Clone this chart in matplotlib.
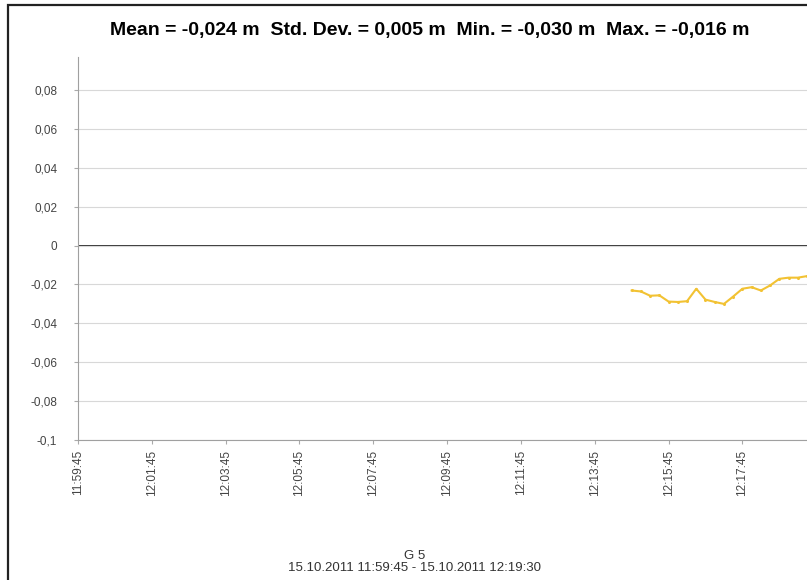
import datetime as dt

import matplotlib
matplotlib.use("Agg")
import matplotlib.dates as mdates
import matplotlib.pyplot as plt
from matplotlib.patches import Rectangle

# ---------------------------------------------------------------------------
# Data (one sample every 15 s)
# ---------------------------------------------------------------------------
START = dt.datetime(2011, 10, 15, 11, 59, 45)
END = dt.datetime(2011, 10, 15, 12, 19, 30)
SERIES_START = dt.datetime(2011, 10, 15, 12, 14, 45)

values = [-0.0231, -0.0236, -0.0258, -0.0256, -0.0288, -0.0290, -0.0286,
          -0.0222, -0.0278, -0.0290, -0.0300, -0.0262, -0.0222, -0.0214,
          -0.0231, -0.0205, -0.0171, -0.0165, -0.0165, -0.0157]
times = [SERIES_START + dt.timedelta(seconds=15 * i) for i in range(len(values))]

y_ticks = [-0.1, -0.08, -0.06, -0.04, -0.02, 0, 0.02, 0.04, 0.06, 0.08]
x_ticks = [START + dt.timedelta(minutes=2 * i) for i in range(10)]

title = "Mean = -0,024 m  Std. Dev. = 0,005 m  Min. = -0,030 m  Max. = -0,016 m"
subtitle = "G 5\n15.10.2011 11:59:45 - 15.10.2011 12:19:30"

FONT = ["Liberation Sans", "DejaVu Sans"]


def fmt_comma(v):
    if abs(v) < 1e-12:
        return "0"
    s = f"{v:.2f}".rstrip("0")
    return s.replace(".", ",")


fig = plt.figure(figsize=(8.07, 5.80), dpi=100)
fig.patch.set_facecolor("white")

# outer frame of the chart control
fig.add_artist(Rectangle((8 / 807, -0.05), 1.2, (580 - 5) / 580 + 0.05,
                         transform=fig.transFigure, fill=False,
                         edgecolor="#222222", linewidth=1.6))

ax = fig.add_axes([78 / 807, 140 / 580, 729 / 807, 383 / 580])
ax.plot(times, values, "-o", color="#f2c233", markersize=2.2, linewidth=1.5,
        markeredgewidth=0)

ax.set_ylim(-0.1, 0.097)
ax.set_xlim(START, END)
ax.set_yticks(y_ticks)
ax.set_yticklabels([fmt_comma(v) for v in y_ticks], fontfamily=FONT,
                   fontsize=8.5, color="#444444")
ax.set_xticks(x_ticks)
ax.xaxis.set_major_formatter(mdates.DateFormatter("%H:%M:%S"))
for lbl in ax.get_xticklabels():
    lbl.set_rotation(90)
    lbl.set_fontsize(8.5)
    lbl.set_fontfamily(FONT)
    lbl.set_color("#444444")

ax.grid(axis="y", color="#d8d8d8", linewidth=0.8)
ax.axhline(0, color="black", linewidth=1.1, zorder=1)
ax.tick_params(axis="x", length=3, color="#aaaaaa", pad=4)
ax.tick_params(axis="y", length=3, color="#aaaaaa", pad=12)
for side in ("top", "right"):
    ax.spines[side].set_visible(False)
for side in ("left", "bottom"):
    ax.spines[side].set_color("#a0a0a0")

fig.text(430 / 807, 1 - 30 / 580, title, ha="center", va="center",
         fontsize=14, fontweight="bold", fontfamily=FONT)
fig.text(415 / 807, 1 - 562 / 580, subtitle, ha="center", va="center",
         fontsize=9.5, fontfamily=FONT, color="#333333", linespacing=0.9)

fig.savefig("out.png", dpi=100)
